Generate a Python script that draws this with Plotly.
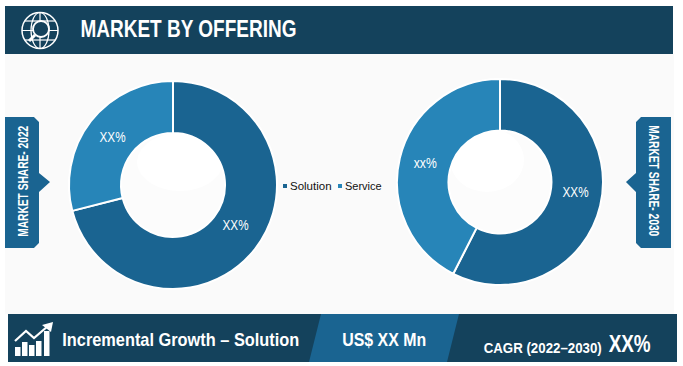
import json
import plotly.graph_objects as go

W, H = 683, 366
segments = ["Solution", "Service"]
share_2022 = [71, 29]
share_2030 = [57.5, 42.5]
labels_2022 = ["XX%", "XX%"]
labels_2030 = ["XX%", "xx%"]
title_text = "MARKET BY OFFERING"
growth_text = "Incremental Growth – Solution"
value_text = "US$ XX Mn"
cagr_text = "CAGR (2022–2030)"
cagr_value = "XX%"
left_tag = "MARKET SHARE- 2022"
right_tag = "MARKET SHARE- 2030"

NAVY = "#14425C"
BLUE = "#1A6491"
LIGHT = "#2785B8"
SANS = "Liberation Sans, Arial, sans-serif"


def px(x):
    return x / W


def py(y):
    return 1 - y / H


def poly(points, fill, line=None, lw=0, close=True):
    d = "M" + " L".join(f"{px(x):.5f},{py(y):.5f}" for x, y in points) + (" Z" if close else "")
    return dict(type="path", xref="paper", yref="paper", path=d,
                fillcolor=fill if close else "rgba(0,0,0,0)",
                line=dict(color=line or "rgba(0,0,0,0)", width=lw))


def rect(x0, y0, x1, y1, fill):
    return dict(type="rect", xref="paper", yref="paper", x0=px(x0), x1=px(x1), y0=py(y1), y1=py(y0),
                fillcolor=fill, line=dict(width=0))


def circle(cx, cy, rx, ry=None, fill="rgba(0,0,0,0)", line=None, lw=0):
    ry = rx if ry is None else ry
    return dict(type="circle", xref="paper", yref="paper", x0=px(cx - rx), x1=px(cx + rx),
                y0=py(cy + ry), y1=py(cy - ry), fillcolor=fill,
                line=dict(color=line or "rgba(0,0,0,0)", width=lw))


def label(x, y, text, size, color="white", weight=700, angle=0, anchor="center"):
    return dict(xref="paper", yref="paper", x=px(x), y=py(y), text=text, showarrow=False, textangle=angle,
                xanchor=anchor, yanchor="middle",
                font=dict(size=size, color=color, family=SANS, weight=weight))


def pie(values, cx, cy, r):
    return go.Pie(labels=segments, values=values, textinfo="none", hole=0.5, sort=False,
                  direction="clockwise", rotation=0, showlegend=False, hoverinfo="label+percent",
                  marker=dict(colors=[BLUE, LIGHT], line=dict(color="white", width=2)),
                  domain=dict(x=[px(cx - r), px(cx + r)], y=[py(cy + r), py(cy - r)]))


fig = go.Figure([pie(share_2022, 173, 185, 104),
                 pie(share_2030, 500, 182, 103)])

below = [
    rect(5, 54, 674, 314, "#FAFAFA"),
    rect(5, 6, 673, 54, NAVY),
    rect(8, 314, 677, 362, NAVY),
    poly([(321, 314), (459, 314), (447, 362), (309, 362)], BLUE),
    circle(173, 185, 52.5, fill="#FCFCFC"),
    circle(500, 180, 52.5, fill="#FCFCFC"),
    circle(180, 162, 43, 29, fill="#FFFFFF"),
    circle(487, 160, 37, 32, fill="#FFFFFF"),
]

above = [
    # left tag
    poly([(5, 117), (34, 117), (39, 122), (39, 173), (50, 182), (39, 192), (39, 243), (34, 248), (5, 248)], BLUE),
    # right tag
    poly([(641, 117), (671, 117), (671, 248), (641, 248), (636, 243), (636, 192), (626, 182), (636, 173), (636, 122)], BLUE),
    # legend keys
    rect(283, 184, 287, 188, BLUE),
    rect(338, 184, 342, 188, LIGHT),
    # globe icon
    circle(40, 30.5, 18, line="white", lw=1.5),
    circle(40, 30.5, 9, 18, line="white", lw=1.2),
    poly([(25, 21), (55, 21)], "", "white", 1.2, close=False),
    poly([(22, 30.5), (58, 30.5)], "", "white", 1.2, close=False),
    poly([(25, 40), (55, 40)], "", "white", 1.2, close=False),
    poly([(40, 13), (40, 48)], "", "white", 1.2, close=False),
    circle(41, 29, 8, fill=NAVY, line="white", lw=1.8),
    poly([(35, 35), (29, 41)], "", "white", 3, close=False),
]

# growth icon: bars and arrow
bar_tops = [(15, 347), (22, 342), (29, 345), (36, 341), (44, 331)]
for bx, top in bar_tops:
    above.append(rect(bx, top, bx + 5.5, 356, "white"))
above.append(poly([(15, 341), (26, 331), (34, 338), (48, 326)], "", "white", 2.2, close=False))
above.append(poly([(42, 325), (53, 322), (51, 332)], "white"))

# (annotation, fitted width in px or None)
items = [
    (label(188, 29, title_text, 24), 216),
    (label(180.5, 339, growth_text, 19), 237),
    (label(384, 339, value_text, 19), 84),
    (label(542, 347, cagr_text, 15), 118),
    (label(629, 343.5, cagr_value, 24), 42),
    (label(22, 181.5, left_tag, 14, angle=-90), 111),
    (label(653, 180.5, right_tag, 14, angle=90), 111),
    (label(288, 186, segments[0], 11.5, color="#111111", weight=400, anchor="left"), None),
    (label(343, 186, segments[1], 11, color="#111111", weight=400, anchor="left"), None),
    (label(235, 225, labels_2022[0], 14, weight=400), 26),
    (label(112, 137, labels_2022[1], 14, weight=400), 26),
    (label(575, 192, labels_2030[0], 14, weight=400), 26),
    (label(425, 163, labels_2030[1], 14, weight=400), 23),
]
annotations = [a for a, _ in items]
fit_widths = [w for _, w in items]

# The reference's lettering is condensed: no installed face is, so fit each text to its width.
script = """
document.body.style.margin = '0';
var fit = %s;
document.querySelectorAll('text.annotation-text').forEach(function (t, i) {
  if (fit[i]) { t.setAttribute('textLength', fit[i]); t.setAttribute('lengthAdjust', 'spacingAndGlyphs'); }
});
""" % json.dumps(fit_widths)

fig.update_layout(width=W, height=H, margin=dict(l=0, r=0, t=0, b=0), autosize=False,
                  paper_bgcolor="white", plot_bgcolor="white",
                  shapes=[dict(s, layer="below") for s in below] + above,
                  annotations=annotations)
fig.write_html("out.html", config=dict(displayModeBar=False), post_script=script)
